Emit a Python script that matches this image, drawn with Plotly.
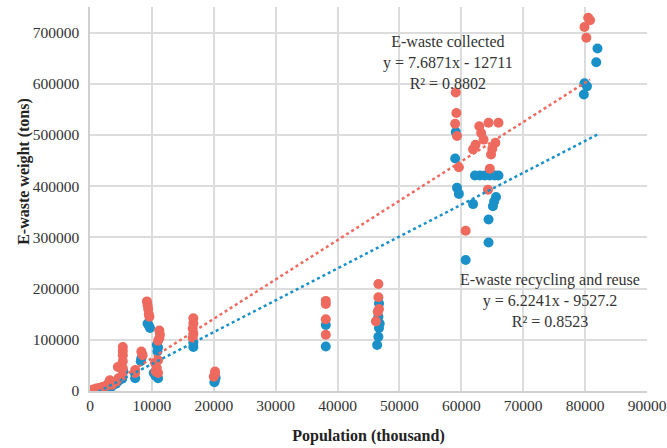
import plotly.graph_objects as go

# E-waste collected (red)
collected_x = [500, 1000, 1500, 2000, 2500, 3000, 3200, 3500, 4200, 4600, 5200,
               5300, 5300, 5300, 5300, 5300, 4500,
               7300, 7300, 8300, 8500,
               9200, 9300, 9400, 9500, 9600,
               10500, 10800, 11000, 10600, 11000,
               11200, 11300, 11200, 11000,
               16700, 16700, 16600, 16700, 16600,
               20200, 20200, 20000,
               38100, 38100, 38100, 38100,
               46600, 46600, 46500, 46200, 46700,
               59100, 59200, 59000, 59300, 59600, 60700,
               62900, 64400, 66000, 63200, 63600, 61900, 62300, 65000, 65500, 64800, 64600, 64300,
               80500, 80800, 79900, 80200]
collected_y = [3000, 5000, 6000, 8000, 10000, 15000, 21000, 12000, 18000, 25000, 30000,
               45000, 58000, 70000, 78000, 86000, 47000,
               41000, 35000, 77000, 70000,
               175000, 168000, 160000, 150000, 145000,
               55000, 45000, 60000, 38000, 35000,
               118000, 110000, 103000, 98000,
               142000, 132000, 122000, 112000, 104000,
               38000, 33000, 28000,
               176000, 170000, 140000, 110000,
               209000, 183000, 155000, 136000, 160000,
               583000, 543000, 522000, 498000, 437000, 313000,
               517000, 524000, 524000, 504000, 491000, 472000, 481000, 473000, 485000, 462000, 434000, 393000,
               729000, 724000, 711000, 690000]

# E-waste recycling and reuse (blue)
recycled_x = [500, 1000, 1500, 2000, 2500, 3000, 3500, 4200, 4600, 5200, 5400,
              7300, 8300, 8200,
              9300, 9700, 9500,
              10800, 10900, 11000,
              10600, 11000, 10300,
              16700, 16700,
              20200, 20100, 20300,
              38100, 38100,
              46700, 46800, 46700, 46600, 46400, 46600,
              59100, 59000, 59300, 59600, 60700,
              62200, 63000, 63800, 64600, 65400, 66000,
              61900, 65600, 65100, 65300, 64400, 64400,
              82000, 81800, 79900, 80300, 79800]
recycled_y = [2000, 3500, 4500, 6000, 8000, 11000, 9000, 14000, 20000, 24000, 38000,
              25000, 64000, 58000,
              132000, 123000, 128000,
              90000, 77000, 85000,
              30000, 25000, 35000,
              95000, 86000,
              22000, 17000, 26000,
              129000, 87000,
              171000, 132000, 123000, 106000, 90000, 145000,
              506000, 454000, 397000, 385000, 256000,
              421000, 421000, 421000, 421000, 421000, 421000,
              365000, 379000, 361000, 370000, 335000, 290000,
              669000, 642000, 601000, 595000, 579000]

# Linear trendline coefficients (slope, intercept) as printed on the chart
trend_collected = [7.6871, -12711]
trend_recycled = [6.2241, -9527.2]

x_ticks = [0, 10000, 20000, 30000, 40000, 50000, 60000, 70000, 80000, 90000]
y_ticks = [0, 100000, 200000, 300000, 400000, 500000, 600000, 700000]

RED = "#EF6A5E"
BLUE = "#1A90C9"
FONT = "'Times New Roman', 'Liberation Serif', 'DejaVu Serif', serif"


def trend(xs, coef):
    x0, x1 = min(xs), max(xs)
    return [x0, x1], [coef[0] * x0 + coef[1], coef[0] * x1 + coef[1]]


fig = go.Figure()
fig.add_trace(go.Scatter(x=recycled_x, y=recycled_y, mode="markers",
                         marker=dict(color=BLUE, size=10, line=dict(width=0)),
                         name="E-waste recycling and reuse"))
fig.add_trace(go.Scatter(x=collected_x, y=collected_y, mode="markers",
                         marker=dict(color=RED, size=10, line=dict(width=0)),
                         name="E-waste collected"))
tx, ty = trend(collected_x, trend_collected)
fig.add_trace(go.Scatter(x=tx, y=ty, mode="lines",
                         line=dict(color=RED, width=2.5, dash="dot")))
tx, ty = trend(recycled_x, trend_recycled)
fig.add_trace(go.Scatter(x=tx, y=ty, mode="lines",
                         line=dict(color=BLUE, width=2.5, dash="dot")))

fig.add_annotation(x=57850, y=642000, xref="x", yref="y", showarrow=False,
                   text="E-waste collected<br>y = 7.6871x - 12711<br>R² = 0.8802",
                   font=dict(family=FONT, size=16, color="#333333"), align="center")
fig.add_annotation(x=74300, y=176000, xref="x", yref="y", showarrow=False,
                   text="E-waste recycling and reuse<br>y = 6.2241x - 9527.2<br>R² = 0.8523",
                   font=dict(family=FONT, size=16, color="#333333"), align="center")
fig.add_annotation(x=-0.138, y=0.571, xref="paper", yref="paper", showarrow=False,
                   text="<b>E-waste weight (tons)</b>", textangle=-90,
                   font=dict(family=FONT, size=16, color="#222222"))

fig.update_layout(
    width=667, height=448,
    margin=dict(l=90, r=20, t=7, b=57, autoexpand=False),
    paper_bgcolor="white", plot_bgcolor="white",
    showlegend=False,
    font=dict(family=FONT, size=15.5, color="#333333"),
    xaxis=dict(range=[0, 90000], tickvals=x_ticks, ticktext=[str(v) for v in x_ticks],
               showgrid=True, gridcolor="#DCDCDC", gridwidth=1.5,
               showline=True, linecolor="#D0D0D0", linewidth=1.5,
               zeroline=False, ticks="", ticklabelstandoff=0, automargin=False,
               title=dict(text="<b>Population (thousand)</b>", standoff=16,
                          font=dict(family=FONT, size=16, color="#222222"))),
    yaxis=dict(range=[0, 750000], tickvals=y_ticks, ticktext=[str(v) for v in y_ticks],
               showgrid=True, gridcolor="#DCDCDC", gridwidth=1.5,
               showline=True, linecolor="#D0D0D0", linewidth=1.5,
               zeroline=False, ticks="", ticklabelstandoff=6, automargin=False),
)

fig.write_html("out.html", config={"displayModeBar": False},
               post_script="document.body.style.margin='0px';document.body.style.padding='0px';")
